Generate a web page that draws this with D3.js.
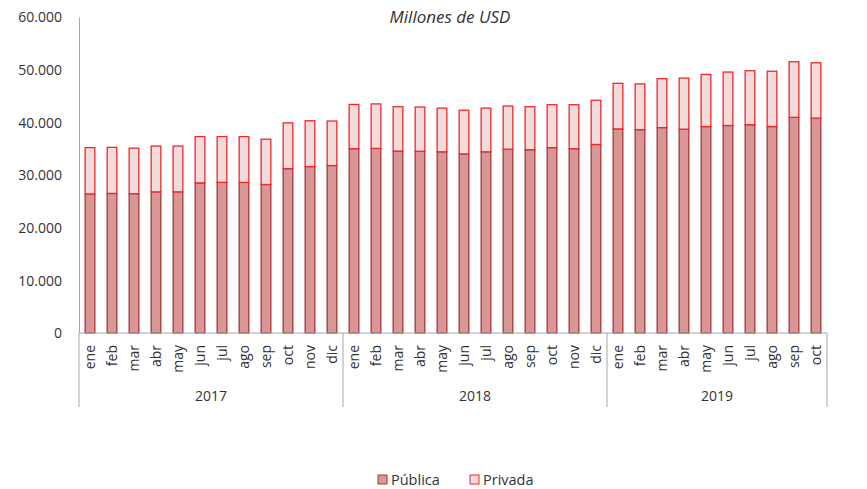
<!DOCTYPE html>
<html>
<head>
<meta charset="utf-8">
<script src="https://cdn.jsdelivr.net/npm/d3@7"></script>
<style>
  body { margin: 0; background: #fff; }
  text { font-family: "Open Sans", "Noto Sans", sans-serif; fill: #333; }
</style>
</head>
<body>
<div id="chart"></div>
<script>
// data (millones de USD)
var years = ["2017", "2018", "2019"];
var months = [
  ["ene","feb","mar","abr","may","jun","jul","ago","sep","oct","nov","dic"],
  ["ene","feb","mar","abr","may","jun","jul","ago","sep","oct","nov","dic"],
  ["ene","feb","mar","abr","may","jun","jul","ago","sep","oct"]
];
var publica = [
  26400, 26500, 26450, 26800, 26800, 28500, 28600, 28600, 28200, 31200, 31600, 31800,
  35000, 35050, 34550, 34500, 34400, 34000, 34400, 34900, 34800, 35200, 35000, 35800,
  38750, 38600, 39000, 38700, 39200, 39400, 39550, 39200, 40950, 40800
];
var total = [
  35200, 35250, 35100, 35500, 35500, 37300, 37300, 37300, 36800, 39900, 40300, 40250,
  43400, 43500, 42970, 42900, 42700, 42300, 42700, 43100, 42970, 43350, 43350, 44200,
  47400, 47300, 48300, 48400, 49100, 49550, 49800, 49700, 51500, 51300
];
var yTicks = [0, 10000, 20000, 30000, 40000, 50000, 60000];

var svgWidth = 867, svgHeight = 489;
var margin = { top: 17, left: 79, right: 40, bottom: 156 };
var width = svgWidth - margin.left - margin.right;
var height = svgHeight - margin.top - margin.bottom;

var rows = [];
months.forEach(function (ms, yi) {
  ms.forEach(function (m) {
    rows.push({ year: years[yi], month: m, key: years[yi] + "-" + m });
  });
});
rows.forEach(function (d, i) {
  d.publica = publica[i];
  d.privada = total[i] - publica[i];
});

var svg = d3.select("#chart").append("svg")
  .attr("width", svgWidth)
  .attr("height", svgHeight);

var g = svg.append("g")
  .attr("transform", `translate(${margin.left}, ${margin.top})`);

var x = d3.scaleBand()
  .domain(rows.map(d => d.key))
  .range([0, width])
  .paddingInner(0.56)
  .paddingOuter(0.28);

var y = d3.scaleLinear()
  .domain([0, 60000])
  .range([height, 0]);

var fmt = d3.formatLocale({ decimal: ",", thousands: ".", grouping: [3], currency: ["", ""] }).format(",.0f");

// left axis
var yAxis = g.append("g")
  .call(d3.axisLeft(y).tickValues(yTicks).tickSize(0).tickPadding(17).tickFormat(fmt));
yAxis.select(".domain").attr("stroke", "#a6a6a6");
yAxis.selectAll("text").style("font-size", "14px").attr("dy", "0.35em");

// stacked bars
var stack = d3.stack().keys(["publica", "privada"])(rows);
var fills = { publica: "#d99694", privada: "#f2dcdb" };
var strokes = { publica: "#a33a38", privada: "#f0282d" };

stack.forEach(function (layer) {
  g.append("g").selectAll("rect")
    .data(layer)
    .enter()
    .append("rect")
    .attr("x", d => x(d.data.key))
    .attr("y", d => y(d[1]))
    .attr("width", x.bandwidth())
    .attr("height", d => y(d[0]) - y(d[1]))
    .attr("fill", fills[layer.key])
    .attr("stroke", strokes[layer.key])
    .attr("stroke-width", 1.3);
});

// bottom axis line
g.append("line")
  .attr("x1", 0).attr("x2", width)
  .attr("y1", height).attr("y2", height)
  .attr("stroke", "#a6a6a6");

// month labels
g.selectAll(".month")
  .data(rows)
  .enter()
  .append("text")
  .attr("transform", d => `translate(${x(d.key) + x.bandwidth() / 2 + 5}, ${height + 12}) rotate(-90)`)
  .attr("text-anchor", "end")
  .style("font-size", "14px")
  .text(d => d.month);

// year groups and separators
var step = x.step();
var start = 0;
var bounds = [0];
months.forEach(function (ms) { start += ms.length; bounds.push(start); });
var sepX = bounds.map(i => i === 0 ? 0 : i === rows.length ? width : x(rows[i].key) - x.paddingInner() * step / 2);

g.selectAll(".sep")
  .data(sepX)
  .enter()
  .append("line")
  .attr("x1", d => d).attr("x2", d => d)
  .attr("y1", height).attr("y2", height + 74)
  .attr("stroke", "#a6a6a6");

g.selectAll(".year")
  .data(years)
  .enter()
  .append("text")
  .attr("x", (d, i) => (sepX[i] + sepX[i + 1]) / 2)
  .attr("y", height + 68)
  .attr("text-anchor", "middle")
  .style("font-size", "14px")
  .text(d => d);

// title
svg.append("text")
  .attr("x", 450)
  .attr("y", 23)
  .attr("text-anchor", "middle")
  .style("font-size", "17px")
  .style("font-style", "italic")
  .text("Millones de USD");

// legend
var legend = [
  { name: "Pública", key: "publica", x: 378 },
  { name: "Privada", key: "privada", x: 470 }
];
var lg = svg.append("g").selectAll("g")
  .data(legend)
  .enter()
  .append("g")
  .attr("transform", d => `translate(${d.x}, 475)`);
lg.append("rect")
  .attr("width", 9).attr("height", 9)
  .attr("fill", d => fills[d.key])
  .attr("stroke", d => strokes[d.key]);
lg.append("text")
  .attr("x", 13).attr("y", 9.5)
  .style("font-size", "14.5px")
  .text(d => d.name);
</script>
</body>
</html>
